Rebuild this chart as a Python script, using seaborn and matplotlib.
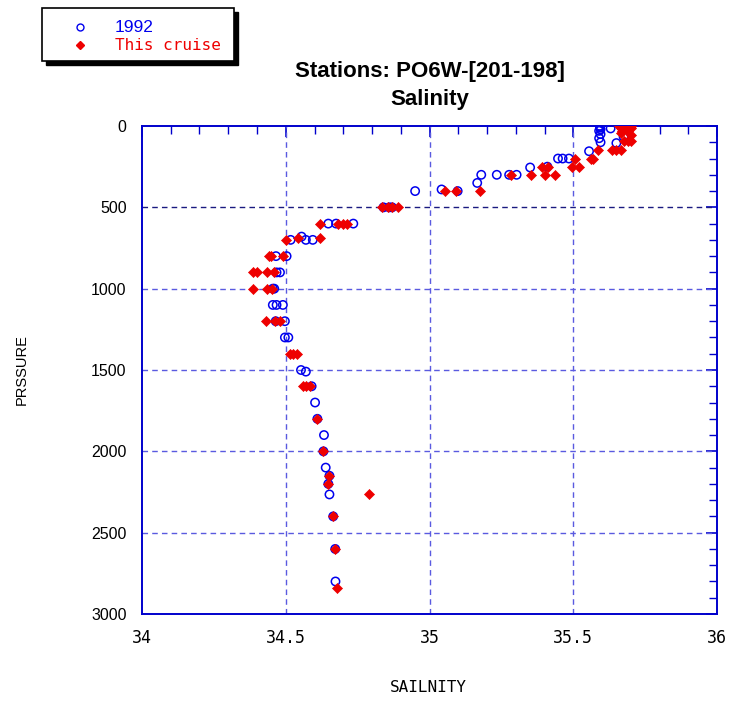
import matplotlib
matplotlib.use("Agg")
import matplotlib.pyplot as plt
import seaborn as sns
import pandas as pd
from matplotlib.patches import Rectangle
from matplotlib.lines import Line2D
from matplotlib.ticker import MultipleLocator

# ---- data: 1992 (open blue circles) ----
sal_1992 = [35.593, 35.593, 35.595, 35.59, 35.595, 35.59, 35.595, 35.63, 35.675, 35.65,
            35.555, 35.447, 35.463, 35.485, 35.41, 35.35, 35.18, 35.234, 35.277, 35.303,
            35.166, 34.95, 35.042, 35.098, 34.84, 34.86, 34.87, 34.648, 34.675, 34.735,
            34.517, 34.555, 34.57, 34.594, 34.466, 34.503, 34.468, 34.48, 34.455, 34.46,
            34.455, 34.468, 34.49, 34.465, 34.497, 34.497, 34.509, 34.553, 34.57, 34.59,
            34.602, 34.61, 34.633, 34.631, 34.639, 34.652, 34.648, 34.652, 34.665, 34.672,
            34.673]
pres_1992 = [0, 10, 20, 30, 50, 75, 100, 15, 65, 105,
             155, 200, 200, 200, 250, 255, 300, 300, 300, 300,
             350, 400, 390, 400, 500, 500, 500, 600, 600, 600,
             700, 680, 700, 700, 800, 800, 900, 900, 1000, 1000,
             1100, 1100, 1100, 1200, 1200, 1300, 1300, 1500, 1510, 1600,
             1700, 1800, 1900, 2000, 2100, 2150, 2200, 2265, 2400, 2600,
             2800]

# ---- data: this cruise (filled red diamonds) ----
sal_cruise = [35.66, 35.675, 35.69, 35.70, 35.665, 35.70, 35.67, 35.69, 35.665, 35.70,
              35.675, 35.69, 35.70, 35.635, 35.65, 35.665, 35.585, 35.56, 35.57, 35.506,
              35.496, 35.52, 35.39, 35.413, 35.40, 35.437, 35.283, 35.352, 35.176, 35.054,
              35.092, 34.834, 34.857, 34.87, 34.89, 34.619, 34.683, 34.70, 34.712, 34.50,
              34.544, 34.619, 34.443, 34.45, 34.49, 34.387, 34.399, 34.434, 34.46, 34.385,
              34.436, 34.453, 34.431, 34.463, 34.48, 34.515, 34.525, 34.538, 34.561, 34.572,
              34.584, 34.607, 34.631, 34.652, 34.648, 34.79, 34.665, 34.672, 34.677]
pres_cruise = [0, 0, 0, 0, 15, 15, 30, 30, 45, 55,
               95, 90, 90, 150, 150, 150, 150, 200, 200, 200,
               250, 250, 250, 250, 300, 300, 300, 300, 400, 400,
               400, 500, 500, 500, 500, 600, 600, 600, 600, 700,
               690, 690, 800, 800, 800, 900, 900, 900, 900, 1000,
               1000, 1000, 1200, 1200, 1200, 1400, 1400, 1400, 1600, 1600,
               1600, 1800, 2000, 2150, 2200, 2265, 2400, 2600, 2840]

x_ticks = [34, 34.5, 35, 35.5, 36]
x_tick_labels = ["34", "34.5", "35", "35.5", "36"]
y_ticks = [0, 500, 1000, 1500, 2000, 2500, 3000]
y_tick_labels = ["0", "500", "1000", "1500", "2000", "2500", "3000"]

df92 = pd.DataFrame({"SAL": sal_1992, "PRES": pres_1992})
dfc = pd.DataFrame({"SAL": sal_cruise, "PRES": pres_cruise})

sns.set_style("white")
plt.rcParams["font.family"] = ["Liberation Sans", "DejaVu Sans"]
plt.rcParams["text.color"] = "black"
plt.rcParams["axes.labelcolor"] = "black"
plt.rcParams["xtick.color"] = "black"
plt.rcParams["ytick.color"] = "black"

fig = plt.figure(figsize=(7.3, 7.02), dpi=100)
ax = fig.add_axes([142 / 730, 1 - 614 / 702, (717 - 142) / 730, (614 - 126) / 702])

axis_blue = "#0000cc"
grid_blue = "#5a5ae0"

# grid lines
for xv in [34.5, 35, 35.5]:
    ax.axvline(xv, color=grid_blue, lw=1.0, ls=(0, (4, 3)), zorder=1)
for yv in [500, 1000, 1500, 2000, 2500]:
    ax.axhline(yv, color="#1a1a80" if yv == 500 else grid_blue, lw=1.0, ls=(0, (4, 3)), zorder=1)

sns.scatterplot(data=df92, x="SAL", y="PRES", ax=ax, marker="o", s=36,
                facecolor="none", edgecolor="#0000ee", linewidth=1.1, zorder=3)
sns.scatterplot(data=dfc, x="SAL", y="PRES", ax=ax, marker="D", s=26,
                color="#ee0000", edgecolor="#ee0000", linewidth=0.5, zorder=4)

ax.set_xlim(34, 36)
ax.set_ylim(3000, 0)
ax.set_xticks(x_ticks)
ax.set_xticklabels(x_tick_labels, fontfamily="DejaVu Sans Mono", fontsize=12, color="black")
ax.set_yticks(y_ticks)
ax.set_yticklabels(y_tick_labels, fontsize=11.5, color="black")
ax.xaxis.set_minor_locator(MultipleLocator(0.1))
ax.yaxis.set_minor_locator(MultipleLocator(100))
ax.tick_params(which="both", direction="in", top=True, right=True, color=axis_blue)
ax.tick_params(which="major", length=8, width=1.2, pad=11)
ax.tick_params(which="minor", length=6, width=1.0)
for sp in ax.spines.values():
    sp.set_color(axis_blue)
    sp.set_linewidth(1.4)
    sp.set_visible(True)
ax.set_xlabel("")
ax.set_ylabel("")

# titles and labels
fig.text(0.589, 1 - 72 / 702, "Stations: PO6W-[201-198]", ha="center", va="center",
         fontsize=16, fontweight="bold", color="black")
fig.text(0.589, 1 - 99 / 702, "Salinity", ha="center", va="center",
         fontsize=16, fontweight="bold", color="black")
fig.text(428 / 730, 1 - 688 / 702, "SAILNITY", ha="center", va="center",
         fontfamily="DejaVu Sans Mono", fontsize=11.5, color="black")
fig.text(22 / 730, 1 - 370 / 702, "PRSSURE", ha="center", va="center",
         rotation=90, fontsize=10.5, color="black")

# legend box with black drop shadow
W, H = 730, 702
x0, x1, y0, y1 = 42, 234, 8, 61
fig.add_artist(Rectangle(((x0 + 4) / W, 1 - (y1 + 4) / H), (x1 - x0) / W, (y1 - y0) / H,
                         transform=fig.transFigure, facecolor="black", edgecolor="black", zorder=5))
fig.add_artist(Rectangle((x0 / W, 1 - y1 / H), (x1 - x0) / W, (y1 - y0) / H,
                         transform=fig.transFigure, facecolor="white", edgecolor="black",
                         linewidth=1.2, zorder=6))
fig.add_artist(Line2D([80 / W], [1 - 27 / H], marker="o", markersize=5, markerfacecolor="none",
                      markeredgecolor="#0000ee", markeredgewidth=1.0, transform=fig.transFigure, zorder=7))
fig.add_artist(Line2D([80 / W], [1 - 45 / H], marker="D", markersize=4, markerfacecolor="#ee0000",
                      markeredgecolor="#ee0000", transform=fig.transFigure, zorder=7))
fig.text(115 / W, 1 - 27 / H, "1992", color="#0000ee", ha="left", va="center",
         fontsize=12.5, zorder=8)
fig.text(115 / W, 1 - 45 / H, "This cruise", color="#ee0000", ha="left", va="center",
         fontfamily="DejaVu Sans Mono", fontsize=11.5, zorder=8)

fig.savefig("out.png", dpi=100)
